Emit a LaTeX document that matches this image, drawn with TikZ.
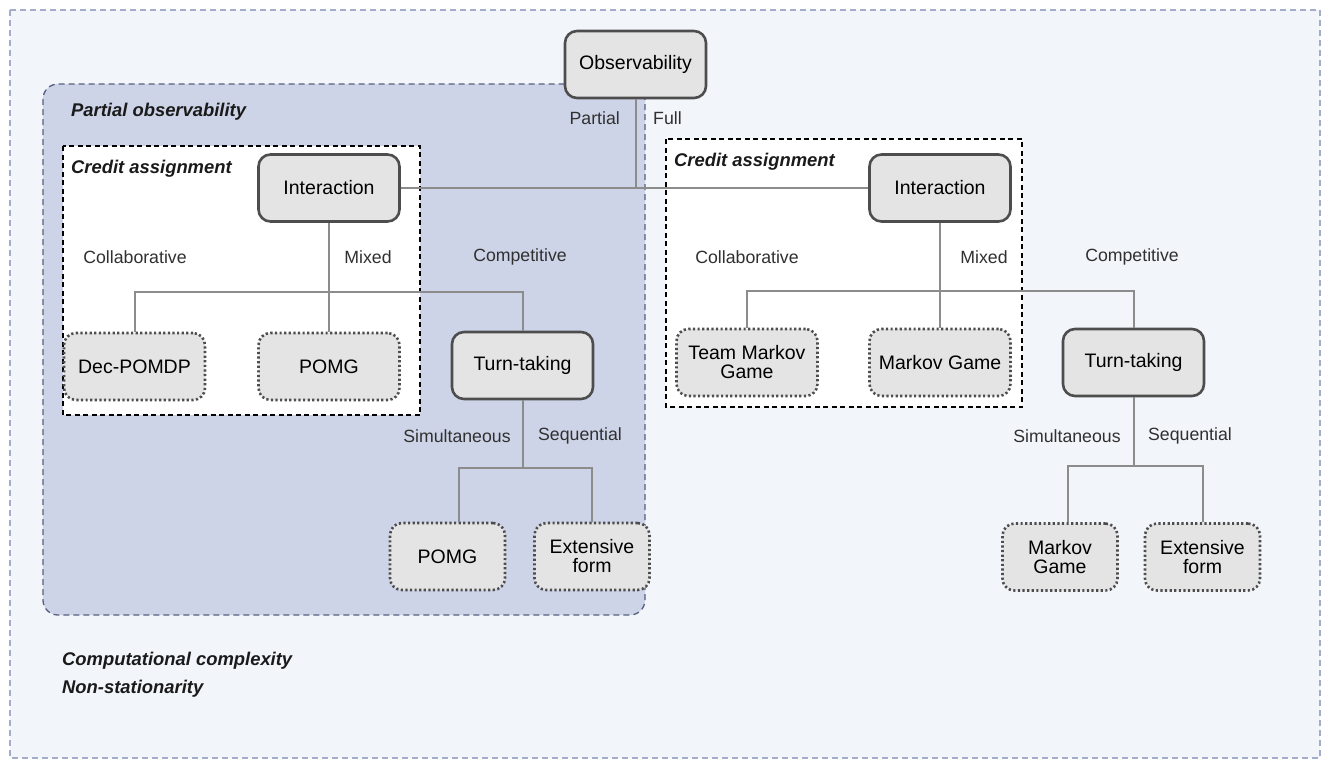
\documentclass[tikz,border=0pt]{standalone}
\usepackage{fontspec}
\setmainfont{Liberation Sans}
\definecolor{outerfill}{HTML}{F2F5FA}
\definecolor{outerline}{HTML}{A3ACC8}
\definecolor{partfill}{HTML}{CED4E8}
\definecolor{partline}{HTML}{56617F}
\definecolor{nodefill}{HTML}{E4E4E4}
\definecolor{nodeline}{HTML}{4D4D4D}
\definecolor{connc}{HTML}{8C8C8C}
\definecolor{labelc}{HTML}{303030}
\definecolor{headc}{HTML}{1A1A1A}
\begin{document}
\begin{tikzpicture}[x=1pt,y=-1pt,
  base/.style={rounded corners=12pt, fill=nodefill, minimum width=141pt, minimum height=67pt,
    inner sep=2pt, align=center, font=\fontsize{19.5}{19}\selectfont, text=black},
  solidbox/.style={base, draw=nodeline, line width=2.6pt},
  dotbox/.style={base, draw=nodeline, line width=2.6pt, dash pattern=on 2.2pt off 2.4pt},
  narrow/.style={minimum width=115pt},
  conn/.style={draw=connc, line width=2pt},
  lbl/.style={font=\fontsize{17.7}{17.7}\selectfont, text=labelc, inner sep=0pt},
  head/.style={font=\fontsize{18.4}{18.4}\selectfont\bfseries\itshape, text=headc, inner sep=0pt, anchor=west},
  region/.style={line width=1.3pt, dash pattern=on 6pt off 4pt},
  creditbox/.style={fill=white, draw=black, line width=1.3pt, dash pattern=on 5pt off 3.5pt},
]
\useasboundingbox (0,0) rectangle (1330,768);
% backgrounds
\path[region, fill=outerfill, draw=outerline] (10,10) rectangle (1320,758);
\path[region, fill=partfill, draw=partline, rounded corners=15pt] (43,84) rectangle (645,615);
\path[creditbox] (63,146) rectangle (420,415);
\path[creditbox] (666,139) rectangle (1022,407);

% headings
\node[head] (hpo) at (71,112) {Partial observability};
\node[head] (hca1) at (71,169) {Credit assignment};
\node[head] (hca2) at (674,162) {Credit assignment};
\node[head] (hcc) at (62,661) {Computational complexity};
\node[head] (hns) at (62,689) {Non-stationarity};

% nodes
\node[solidbox] (obs) at (635.5,64.5) {Observability};
\node[solidbox] (int1) at (329,188) {Interaction};
\node[solidbox] (int2) at (940,188) {Interaction};
\node[dotbox] (dec) at (134.5,366.5) {Dec-POMDP};
\node[dotbox] (pomg1) at (329,366.5) {POMG};
\node[solidbox] (tt1) at (522.5,365.5) {Turn-taking};
\node[dotbox] (tmg) at (747,362.5) {Team Markov\\Game};
\node[dotbox] (mg1) at (940,362.5) {Markov Game};
\node[solidbox] (tt2) at (1133.5,362.5) {Turn-taking};
\node[dotbox, narrow] (pomg2) at (447.5,556.5) {POMG};
\node[dotbox, narrow] (ext1) at (592,556.5) {Extensive\\form};
\node[dotbox, narrow] (mg2) at (1060,557) {Markov\\Game};
\node[dotbox, narrow] (ext2) at (1202.5,557) {Extensive\\form};

% connectors
\coordinate (b1) at (0,292);
\coordinate (b2) at (0,291);
\coordinate (b3) at (0,468);
\coordinate (b4) at (0,466);
\draw[conn] (obs.south) |- (int1.east);
\draw[conn] (obs.south) |- (int2.west);
\draw[conn] (int1.south) -- (int1.south |- b1) -| (dec.north);
\draw[conn] (int1.south |- b1) -| (tt1.north);
\draw[conn] (int1.south) -- (pomg1.north);
\draw[conn] (int2.south) -- (int2.south |- b2) -| (tmg.north);
\draw[conn] (int2.south |- b2) -| (tt2.north);
\draw[conn] (int2.south) -- (mg1.north);
\draw[conn] (tt1.south) -- (tt1.south |- b3) -| ([xshift=11.5pt]pomg2.north);
\draw[conn] (tt1.south |- b3) -| (ext1.north);
\draw[conn] (tt2.south) -- (tt2.south |- b4) -| ([xshift=8pt]mg2.north);
\draw[conn] (tt2.south |- b4) -| (ext2.north);

% labels
\node[lbl, anchor=east] (lpart) at (620,118) {Partial};
\node[lbl, anchor=west] (lfull) at (653,118) {Full};
\node[lbl] (lcol1) at (135,257) {Collaborative};
\node[lbl] (lmix1) at (368,257) {Mixed};
\node[lbl] (lcom1) at (520,257) {Competitive};
\node[lbl] (lcol2) at (747,257) {Collaborative};
\node[lbl] (lmix2) at (984,257) {Mixed};
\node[lbl] (lcom2) at (1132,257) {Competitive};
\node[lbl] (lsim1) at (457,436) {Simultaneous};
\node[lbl] (lseq1) at (580,436) {Sequential};
\node[lbl] (lsim2) at (1067,436) {Simultaneous};
\node[lbl] (lseq2) at (1190,436) {Sequential};
\end{tikzpicture}
\end{document}
